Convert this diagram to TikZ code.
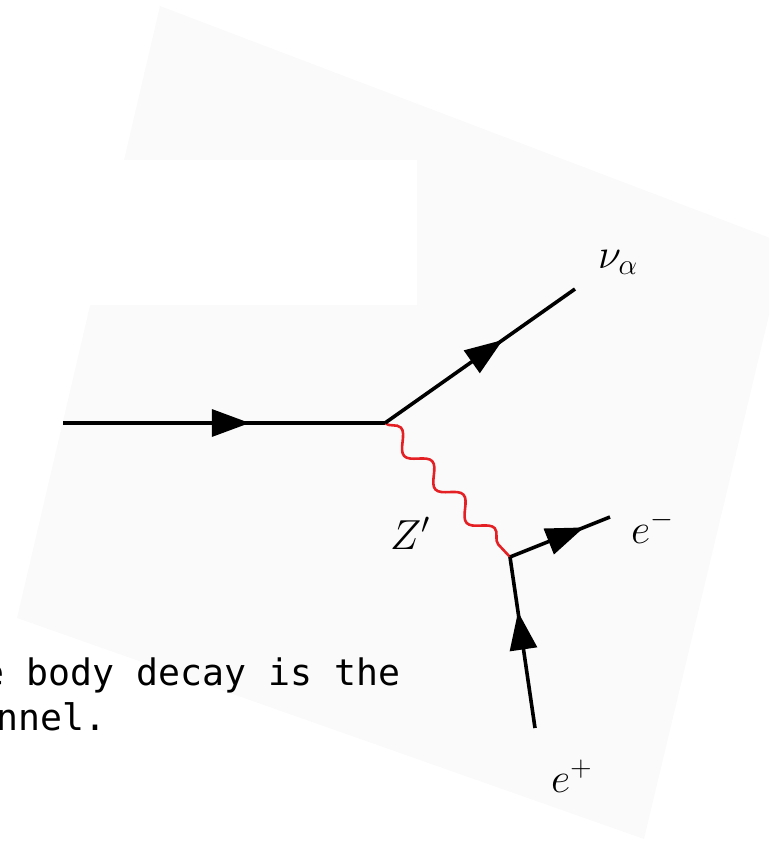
\RequirePackage{fix-cm}
\documentclass[tikz,border=0pt]{standalone}
\usepackage{fontspec}
\newfontfamily\monofont{DejaVu Sans Mono}
\usetikzlibrary{decorations.pathmorphing,decorations.markings,arrows.meta}
\definecolor{panel}{RGB}{250,250,250}
\definecolor{zred}{RGB}{228,32,36}
\begin{document}
\begin{tikzpicture}[x=1pt,y=-1pt,
  fermion/.style={line width=3.6pt, draw=black, postaction={decorate},
    decoration={markings, mark=at position #1 with {\arrow{Triangle[length=38pt,width=27pt]}}}},
  fermion/.default=0.6,
  photon/.style={draw=zred, line width=2.6pt, decorate,
    decoration={snake, segment length=45.8pt, amplitude=8.5pt}},
  lbl/.style={inner sep=0pt, font=\fontsize{42}{50}\selectfont},
  txt/.style={inner sep=0pt, font=\monofont\fontsize{36.5}{45}\selectfont}]
\useasboundingbox (0,0) rectangle (769,846);
\clip (0,0) rectangle (769,846);
% background panel
\fill[panel] (160,6) -- (786,244) -- (644,839) -- (17,618) -- cycle;
\fill[white] (0,160) rectangle (417,305);
% caption text fragments
\node[txt, anchor=base east] (t1) at (400.6,685) {e body decay is the};
\node[txt, anchor=base west] (t2) at (-3.3,730) {nnel.};
% vertices and endpoints
\coordinate (a) at (63,423);
\coordinate (v1) at (385,423);
\coordinate (nu) at (575,289);
\coordinate (v2) at (510,557);
\coordinate (em) at (610,517);
\coordinate (ep) at (535,728);
% propagators
\draw[photon] (v1) -- (v2);
\draw[fermion=0.58] (a) -- (v1);
\draw[fermion=0.62] (v1) -- (nu);
\draw[fermion=0.74] (v2) -- (em);
\draw[fermion=0.68] (ep) -- (v2);
% labels
\node[lbl, anchor=base west] (lnu) at (598,268) {$\nu_\alpha$};
\node[lbl, anchor=base west] (lz) at (390,549) {$Z'$};
\node[lbl, anchor=base west] (lem) at (631,543) {$e^-$};
\node[lbl, anchor=base west] (lep) at (551,792) {$e^+$};
\end{tikzpicture}
\end{document}
